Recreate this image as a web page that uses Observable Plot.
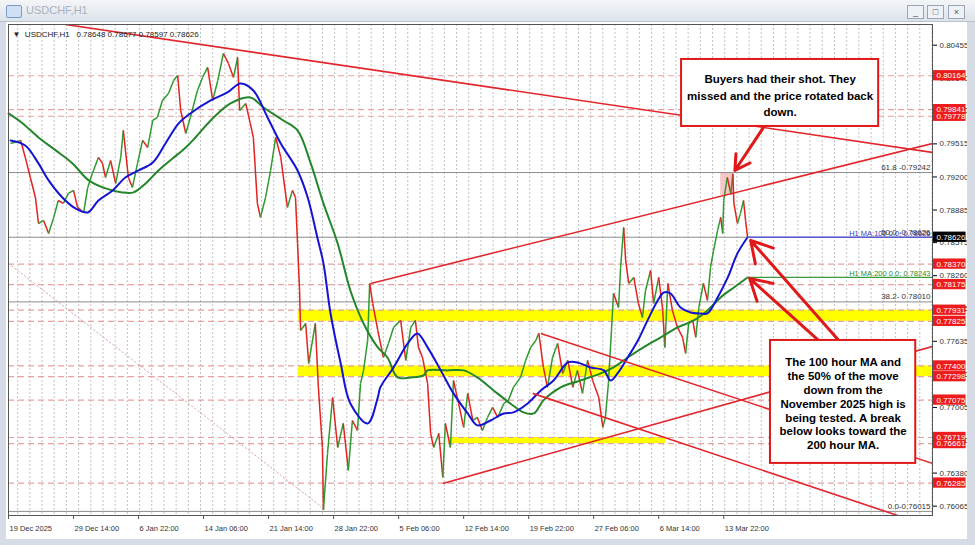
<!DOCTYPE html>
<html><head><meta charset="utf-8">
<script src="https://cdn.jsdelivr.net/npm/d3@7"></script>
<script src="https://cdn.jsdelivr.net/npm/@observablehq/plot@0.6"></script>
<style>
body{margin:0;width:975px;height:545px;overflow:hidden;position:relative;background:#d6dce5;font-family:"Liberation Sans",Arial,sans-serif}
#chart{position:absolute;left:0;top:0}
#titlebar{position:absolute;left:0;top:0;width:975px;height:22px;background:linear-gradient(#f3f5f8,#dde3eb);border-bottom:1px solid #b8c0cc;box-sizing:border-box}
#titlebar .icon{position:absolute;left:6px;top:5px;width:14px;height:11px;border:1px solid #7a9cc6;background:#cfe0f4;border-radius:2px}
#titlebar .txt{position:absolute;left:26px;top:4px;font-size:11px;color:#a9b1bd}
.btn{position:absolute;top:5px;width:15px;height:12px;border:1px solid #9aa4b2;background:#eef1f5;font-size:9px;line-height:12px;text-align:center;color:#556}
.strip{position:absolute;background:#d6dce5}
</style></head>
<body>
<div id="chart"></div>
<div id="titlebar"><div class="icon"></div><div class="txt">USDCHF,H1</div>
<div class="btn" style="left:907px">_</div><div class="btn" style="left:927px">□</div><div class="btn" style="left:948px">×</div></div>
<div class="strip" style="left:0;top:22px;width:6px;height:523px"></div>
<div class="strip" style="left:967px;top:22px;width:8px;height:523px"></div>
<div class="strip" style="left:0;top:539px;width:975px;height:6px"></div>
<script>
// ---- data (bar index = hourly bar from 19 Dec 2025) ----
const labelBars = [0,128,256,384,512,640,768,896,1024,1152,1280,1408];
const labelTexts = ["19 Dec 2025","29 Dec 14:00","6 Jan 22:00","14 Jan 06:00","21 Jan 14:00","28 Jan 22:00","5 Feb 06:00","12 Feb 14:00","19 Feb 22:00","27 Feb 06:00","6 Mar 14:00","13 Mar 22:00"];
const priceTicks = [0.80455,0.80140,0.79830,0.79515,0.79200,0.78885,0.78575,0.78260,0.77945,0.77635,0.77320,0.77005,0.76690,0.76380,0.76065];

const priceBars = [4,24,33,43,53,59,69,79,89,98,108,118,128,136,148,156,165,177,185,191,201,211,221,226,236,244,254,264,274,284,293,303,315,325,333,339,349,358,372,382,392,402,412,423,433,443,451,455,467,476,482,490,496,506,516,526,536,549,559,565,569,573,575,585,591,604,610,618,620,628,638,648,659,669,677,687,693,699,707,711,717,727,738,748,758,772,782,792,801,807,815,825,831,837,847,855,860,870,876,886,896,904,914,923,933,943,953,963,975,984,994,1008,1018,1028,1038,1044,1053,1061,1071,1081,1091,1101,1111,1120,1130,1140,1150,1162,1170,1175,1181,1187,1191,1201,1205,1211,1215,1221,1231,1240,1248,1254,1264,1270,1280,1288,1292,1298,1307,1317,1327,1333,1339,1347,1353,1359,1368,1376,1382,1388,1396,1402,1406,1408,1415,1422,1426,1428,1435,1441,1447,1451,1455];
const prices = [0.79519,0.79548,0.79386,0.79195,0.79005,0.78757,0.78786,0.78662,0.78815,0.78976,0.78948,0.79043,0.79072,0.78910,0.78862,0.79100,0.79234,0.79386,0.79329,0.79195,0.79357,0.79138,0.79386,0.79643,0.79195,0.79100,0.79329,0.79548,0.79481,0.79738,0.79767,0.79929,0.79995,0.80119,0.80167,0.79833,0.79614,0.79767,0.80024,0.80148,0.80243,0.79929,0.80119,0.80376,0.80281,0.80148,0.80338,0.79833,0.79900,0.79710,0.79576,0.78948,0.78815,0.79005,0.79262,0.79576,0.79386,0.78910,0.79072,0.79005,0.78567,0.78119,0.77738,0.77805,0.77424,0.77805,0.77196,0.76624,0.76030,0.76567,0.77100,0.76624,0.76853,0.76405,0.76881,0.76786,0.77234,0.77358,0.77643,0.78186,0.77996,0.77738,0.77481,0.77615,0.77767,0.77834,0.77453,0.77767,0.77834,0.77577,0.77481,0.77234,0.76758,0.76624,0.76758,0.76339,0.76853,0.76624,0.77262,0.77043,0.76815,0.77139,0.76881,0.76910,0.76786,0.76910,0.77005,0.76910,0.77043,0.77072,0.77196,0.77291,0.77453,0.77577,0.77643,0.77710,0.77386,0.77196,0.77481,0.77615,0.77329,0.77453,0.77196,0.77358,0.77139,0.77453,0.77262,0.77100,0.76815,0.76910,0.77234,0.77738,0.78091,0.77957,0.78338,0.78719,0.78405,0.78186,0.78243,0.77996,0.77862,0.78119,0.78310,0.77996,0.78243,0.77929,0.77577,0.78186,0.77929,0.77767,0.77672,0.77519,0.77805,0.77834,0.77672,0.77957,0.78186,0.78024,0.78338,0.78500,0.78691,0.78815,0.78662,0.78976,0.79195,0.79043,0.79230,0.78948,0.78757,0.78853,0.78976,0.78786,0.78626];

const ma100Bars = [4,33,59,79,106,132,156,177,205,230,256,284,309,335,358,398,431,457,482,510,536,569,589,608,620,634,654,673,707,727,732,758,786,805,825,851,876,904,923,949,975,994,1022,1048,1073,1101,1120,1146,1172,1185,1199,1219,1239,1258,1278,1290,1303,1323,1343,1363,1376,1396,1416,1435,1455];
const ma100 = [0.79548,0.79500,0.79329,0.79167,0.79005,0.78900,0.78862,0.78976,0.79072,0.79195,0.79262,0.79338,0.79519,0.79710,0.79805,0.79929,0.80005,0.80091,0.80024,0.79767,0.79519,0.79262,0.79005,0.78624,0.78377,0.77900,0.77424,0.77043,0.76853,0.77100,0.77196,0.77386,0.77615,0.77710,0.77577,0.77358,0.77139,0.76948,0.76834,0.76881,0.76948,0.76958,0.77043,0.77167,0.77262,0.77434,0.77434,0.77386,0.77358,0.77262,0.77329,0.77481,0.77643,0.77834,0.78024,0.78100,0.78091,0.77957,0.77910,0.77900,0.77900,0.78053,0.78243,0.78472,0.78626];

const ma200Bars = [0,28,59,93,126,158,191,224,246,270,295,323,349,368,398,437,476,502,541,569,595,620,648,673,699,727,746,766,792,817,825,864,896,923,955,988,1014,1034,1053,1087,1126,1166,1191,1219,1250,1284,1317,1349,1376,1402,1428,1455];
const ma200 = [0.79805,0.79710,0.79576,0.79453,0.79329,0.79167,0.79091,0.79053,0.79053,0.79138,0.79262,0.79376,0.79481,0.79576,0.79738,0.79900,0.79957,0.79862,0.79738,0.79643,0.79329,0.78948,0.78567,0.78119,0.77805,0.77577,0.77481,0.77291,0.77291,0.77310,0.77358,0.77358,0.77358,0.77291,0.77167,0.77043,0.76958,0.76948,0.77072,0.77196,0.77262,0.77329,0.77386,0.77481,0.77577,0.77672,0.77767,0.77834,0.77929,0.78053,0.78148,0.78243];

const levelPrices = [0.80164,0.79841,0.79778,0.78370,0.78175,0.77931,0.77825,0.77400,0.77298,0.77075,0.76719,0.76661,0.76285];
const fibPrices = [0.79242,0.78626,0.78010,0.76015];
const fibLabels = ["61.8 -0.79242","50.0 -0.78626","38.2- 0.78010","0.0-0.76015"];
const bandLow = [0.77825,0.77298,0.76661];
const bandHigh = [0.77931,0.77400,0.76719];
const bandStart = [571,571,865];
const bandEnd = [1819,1819,1294];

const trendX1 = [112,713,855,1048,1032];
const trendP1 = [0.80652,0.78186,0.76281,0.77710,0.77139];
const trendX2 = [1819,1819,1819,1819,1756];
const trendP2 = [0.79434,0.79519,0.77586,0.76472,0.75967];
const diagX = [0,620];
const diagP = [0.78377,0.76044];

const arrowX1 = [1485,1638,1599];
const arrowP1 = [0.79662,0.77624,0.77624];
const arrowX2 = [1430,1461,1459];
const arrowP2 = [0.79262,0.78596,0.78234];

const lastPrice = 0.78626;
const ma100Last = 0.78626, ma200Last = 0.78243;
const peakZone = {x1:1402, x2:1428, p1:0.79024, p2:0.79242};

const note1 = "Buyers had their shot. They\nmissed and the price rotated back\ndown.";
const note2 = "The 100 hour MA and\nthe 50% of the move\ndown from the\nNovember 2025 high is\nbeing tested. A break\nbelow looks toward the\n200 hour MA.";
const note1Box = {x1:1325, x2:1713, p1:0.79681, p2:0.80319, cx:1519, cp:0.79986};
const note2Box = {x1:1500, x2:1786, p1:0.76472, p2:0.77643, cx:1643, cp:0.77043};

// ---- build ----
const xMax = 1819;
const pts = priceBars.map((b,i)=>({b, p:prices[i]}));
const segs = pts.slice(1).map((d,i)=>({x1:pts[i].b, y1:pts[i].p, x2:d.b, y2:d.p, c: d.p >= pts[i].p ? "#2f9a2f" : "#e2231f"}));
const ma100Data = ma100Bars.map((b,i)=>({b,p:ma100[i]}));
const ma200Data = ma200Bars.map((b,i)=>({b,p:ma200[i]}));
const bands = bandLow.map((l,i)=>({x1:bandStart[i], x2:bandEnd[i], y1:l, y2:bandHigh[i]}));
const trends = trendX1.map((x,i)=>({x1:x, y1:trendP1[i], x2:trendX2[i], y2:trendP2[i]}));
const arrows = arrowX1.map((x,i)=>({x1:x, y1:arrowP1[i], x2:arrowX2[i], y2:arrowP2[i]}));
const halfBox = 0.00049;
const fnt = "Liberation Sans, Arial, sans-serif";

const chart = Plot.plot({
  width: 975, height: 545,
  marginLeft: 8, marginRight: 43, marginTop: 24, marginBottom: 30,
  x: {domain:[0, xMax], axis:null},
  y: {domain:[0.75976, 0.80652], axis:null},
  style: {background:"white", fontFamily: fnt, fontSize:"8px", overflow:"visible"},
  marks: [
    Plot.ruleX(d3.range(18, xMax, 24), {stroke:"#a8a8a8", strokeWidth:0.7, strokeDasharray:"2,2"}),
    Plot.rect(bands, {x1:"x1", x2:"x2", y1:"y1", y2:"y2", fill:"#ffff00"}),
    Plot.rect([peakZone], {x1:"x1", x2:"x2", y1:"p1", y2:"p2", fill:"#f3b9b9", fillOpacity:0.8}),
    Plot.ruleY(levelPrices, {stroke:"#e9a0a0", strokeWidth:1.2, strokeDasharray:"6,4"}),
    Plot.ruleY(fibPrices, {stroke:"#8c8c8c", strokeWidth:1}),
    Plot.line(diagX.map((b,i)=>({b,p:diagP[i]})), {x:"b", y:"p", stroke:"#d8a8a8", strokeWidth:1, strokeDasharray:"1.5,2.5"}),
    Plot.link(segs, {x1:"x1", y1:"y1", x2:"x2", y2:"y2", stroke:"c", strokeWidth:1.5}),
    Plot.line(ma200Data, {x:"b", y:"p", stroke:"#23862a", strokeWidth:2, curve:"catmull-rom"}),
    Plot.line(ma100Data, {x:"b", y:"p", stroke:"#1414d2", strokeWidth:2, curve:"catmull-rom"}),
    Plot.ruleY([ma100Last], {x1:1455, x2:xMax, stroke:"#5a5ad0", strokeWidth:1.5}),
    Plot.ruleY([ma200Last], {x1:1455, x2:xMax, stroke:"#3a9a3a", strokeWidth:1.2}),
    Plot.link(trends, {x1:"x1", y1:"y1", x2:"x2", y2:"y2", stroke:"#e2262c", strokeWidth:1.6, clip:true}),
    Plot.text([ma100Last], {y:d=>d, frameAnchor:"right", textAnchor:"end", dx:-2, dy:-4, text:()=>"H1 MA:100 0.0; 0.78626", fill:"#4040c0", fontSize:7.5}),
    Plot.text([ma200Last], {y:d=>d, frameAnchor:"right", textAnchor:"end", dx:-2, dy:-4, text:()=>"H1 MA:200 0.0; 0.78243", fill:"#2a8a2a", fontSize:7.5}),
    Plot.text(fibPrices, {y:d=>d, frameAnchor:"right", textAnchor:"end", dx:-2, dy:-5, text:(d,i)=>fibLabels[i], fill:"#333", fontSize:8}),
    Plot.arrow(arrows, {x1:"x1", y1:"y1", x2:"x2", y2:"y2", stroke:"#e01818", strokeWidth:3, headLength:12}),
    Plot.rect([note1Box], {x1:"x1", x2:"x2", y1:"p1", y2:"p2", fill:"white", stroke:"#e01818", strokeWidth:2}),
    Plot.text([note1Box], {x:"cx", y:"cp", text:()=>note1, fontWeight:"bold", fontSize:11.5, lineHeight:1.45, fill:"black"}),
    Plot.rect([note2Box], {x1:"x1", x2:"x2", y1:"p1", y2:"p2", fill:"white", stroke:"#e01818", strokeWidth:2}),
    Plot.text([note2Box], {x:"cx", y:"cp", text:()=>note2, fontWeight:"bold", fontSize:11.5, lineHeight:1.2, fill:"black"}),
    Plot.frame({stroke:"#555", strokeWidth:1}),
    // right price axis
    Plot.axisY(priceTicks, {anchor:"right", tickSize:4, tickFormat:d=>d.toFixed(5), fontSize:8, fill:"#333", tickPadding:3}),
    Plot.rect(levelPrices, {x1:xMax+2, x2:xMax+66, y1:d=>d-halfBox, y2:d=>d+halfBox, fill:"#ec1c1c"}),
    Plot.text(levelPrices, {y:d=>d, frameAnchor:"right", dx:4, textAnchor:"start", text:d=>d.toFixed(5), fill:"white", fontSize:8}),
    Plot.rect([lastPrice], {x1:xMax+2, x2:xMax+66, y1:d=>d-halfBox, y2:d=>d+halfBox, fill:"black"}),
    Plot.text([lastPrice], {y:d=>d, frameAnchor:"right", dx:4, textAnchor:"start", text:d=>d.toFixed(5), fill:"white", fontSize:8}),
    // bottom time axis
    Plot.axisX(labelBars, {anchor:"bottom", tickSize:4, tickFormat:()=>"", stroke:"#555"}),
    Plot.text(labelBars, {x:d=>d, frameAnchor:"bottom", dy:15, dx:1, textAnchor:"start", text:(d,i)=>labelTexts[i], fill:"#333", fontSize:7.5}),
    Plot.text(["▼  USDCHF,H1   0.78648 0.78677 0.78597 0.78626"], {frameAnchor:"top-left", dx:4, dy:7, text:d=>d, fill:"#222", fontSize:8})
  ]
});
document.getElementById("chart").appendChild(chart);
</script>
</body></html>
